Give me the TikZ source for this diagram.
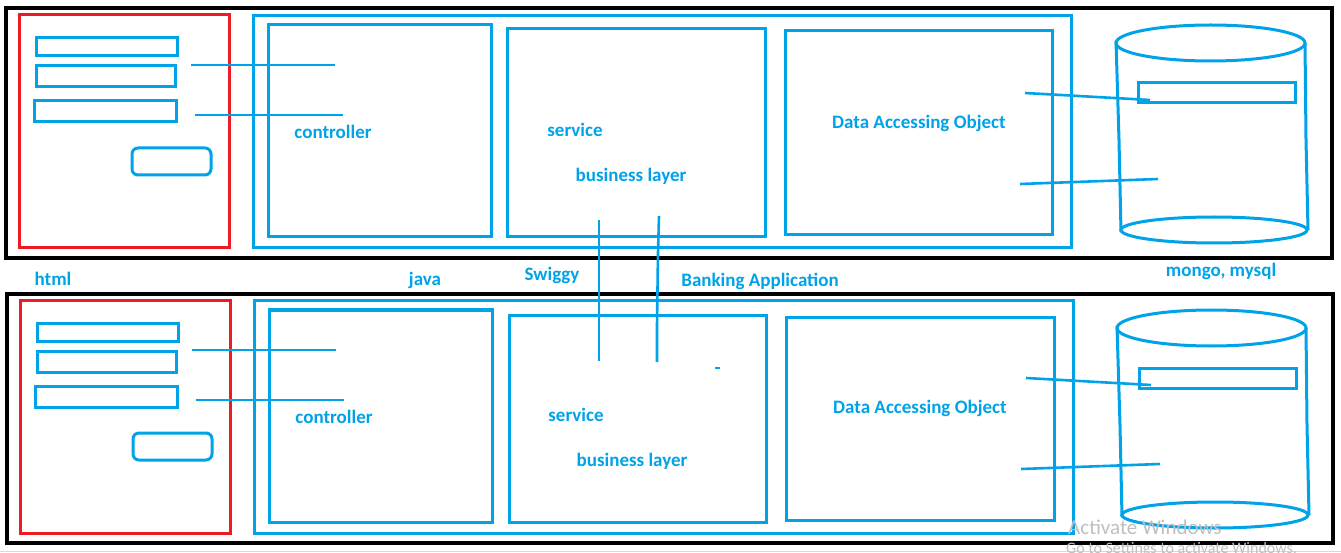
\documentclass[tikz,border=0pt]{standalone}
\usepackage{fontspec}
\setmainfont{Carlito}
\usepackage{tikz}
\definecolor{paintblue}{RGB}{0,162,232}
\definecolor{paintred}{RGB}{237,28,36}

\begin{document}
\begin{tikzpicture}[x=1pt,y=-1pt]
\tikzstyle{every node}+=[inner sep=0pt]
\tikzstyle{frame}=[black,line width=3.2pt]
\tikzstyle{page}=[paintred,line width=3pt]
\tikzstyle{box}=[paintblue,line width=3pt]
\tikzstyle{wire}=[paintblue,line width=2.6pt]
\tikzstyle{lbl}=[text=paintblue,font=\bfseries\fontsize{19}{21}\selectfont]
\useasboundingbox (0,0) rectangle (1341,553);
\draw [black!15,line width=1pt] (0,551.5) -- (1341,551.5);
% top row
\draw [frame] (6,8) rectangle (1332,258);
\draw [page] (19,15) rectangle (229,248);
\draw [box] (36,38) rectangle (177,56);
\draw [box] (36,66) rectangle (175,87);
\draw [box] (34,101) rectangle (176,122);
\draw [box,rounded corners=6pt] (132,148) rectangle (211,175);
\draw [box] (253,16) rectangle (1071,248);
\draw [box] (268,25) rectangle (491,237);
\draw [box] (507,29) rectangle (765,237);
\draw [box] (785,31) rectangle (1052,235);
\node [lbl] (ctrlA) at (333,132) {controller};
\node [lbl] (servA) at (575,130) {service};
\node [lbl] (bizA) at (631,176) {business layer};
\node [lbl] (daoA) at (919,123) {Data Accessing Object};
\coordinate (fA1) at (191,65);
\coordinate (cA1) at (335,65);
\coordinate (fA2) at (195,115);
\coordinate (cA2) at (343,115);
\draw [wire] (fA1) -- (cA1);
\draw [wire] (fA2) -- (cA2);
% database top
\draw [box] (1210.5,43) ellipse (94.5 and 18);
\draw [box] (1214,230) ellipse (93 and 13);
\draw [box] (1116,41) -- (1119,140) -- (1121,232);
\draw [box] (1305,43) -- (1306,140) -- (1308,230);
\draw [box] (1138,83) rectangle (1295,103);
\coordinate (dA1) at (1025,93);
\coordinate (tA1) at (1150,100);
\coordinate (dA2) at (1020,184);
\coordinate (tA2) at (1158,179);
\draw [wire] (dA1) -- (tA1);
\draw [wire] (dA2) -- (tA2);
% captions
\node [lbl] (html) at (53,279) {html};
\node [lbl] (java) at (425,280) {java};
\node [lbl] (swiggy) at (552,275) {Swiggy};
\node [lbl] (bank) at (760,281) {Banking Application};
\node [lbl] (db) at (1221,271) {mongo, mysql};
% bottom row
\draw [frame] (7,294) rectangle (1333,543);
\draw [page] (20,301) rectangle (230,533);
\draw [box] (37,323) rectangle (178,341);
\draw [box] (37,351) rectangle (176,372);
\draw [box] (35,386) rectangle (177,407);
\draw [box,rounded corners=6pt] (133,433) rectangle (212,460);
\draw [box] (254,301) rectangle (1073,533);
\draw [box] (269,310) rectangle (492,522);
\draw [box] (509,315) rectangle (766,522);
\draw [box] (786,317) rectangle (1054,520);
\node [lbl] (ctrlB) at (334,417) {controller};
\node [lbl] (servB) at (576,415) {service};
\node [lbl] (bizB) at (632,461) {business layer};
\node [lbl] (daoB) at (920,408) {Data Accessing Object};
\coordinate (fB1) at (192,350);
\coordinate (cB1) at (336,350);
\coordinate (fB2) at (196,400);
\coordinate (cB2) at (344,400);
\draw [wire] (fB1) -- (cB1);
\draw [wire] (fB2) -- (cB2);
% database bottom
\draw [box] (1211.5,328) ellipse (94.5 and 18);
\draw [box] (1215,515) ellipse (93 and 13);
\draw [box] (1117,326) -- (1120,425) -- (1122,517);
\draw [box] (1306,328) -- (1307,425) -- (1309,515);
\draw [box] (1139,368) rectangle (1296,388);
\coordinate (dB1) at (1026,378);
\coordinate (tB1) at (1151,385);
\coordinate (dB2) at (1021,469);
\coordinate (tB2) at (1160,464);
\draw [wire] (dB1) -- (tB1);
\draw [wire] (dB2) -- (tB2);
% links between the two rows
\coordinate (sw1) at (599,220);
\coordinate (sw2) at (599,361);
\coordinate (bk1) at (659,216);
\coordinate (bk2) at (658,253);
\coordinate (bk3) at (657,325);
\coordinate (bk4) at (657,362);
\draw [wire] (sw1) -- (sw2);
\draw [wire] (bk1) -- (bk2) -- (bk3) -- (bk4);
\draw [wire] (715,368) -- (720,368);
% watermark
\node [text=black!25,font=\fontsize{21}{23}\selectfont,anchor=west] (wm1) at (1068,527) {Activate Windows};
\node [text=black!25,font=\fontsize{16}{18}\selectfont,anchor=west] (wm2) at (1066,549) {Go to Settings to activate Windows.};
\end{tikzpicture}
\end{document}
